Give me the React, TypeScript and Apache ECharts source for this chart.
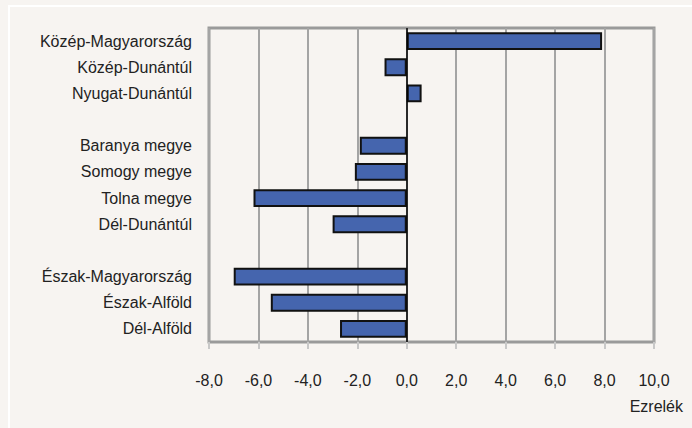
import React, { useEffect, useRef } from "react";
import * as echarts from "echarts";

const categories = [
  "Közép-Magyarország",
  "Közép-Dunántúl",
  "Nyugat-Dunántúl",
  "",
  "Baranya megye",
  "Somogy megye",
  "Tolna megye",
  "Dél-Dunántúl",
  " ",
  "Észak-Magyarország",
  "Észak-Alföld",
  "Dél-Alföld",
];
const values: (number | null)[] = [7.9, -0.9, 0.6, null, -1.9, -2.1, -6.2, -3.0, null, -7.0, -5.5, -2.7];
const unitLabel = "Ezrelék";
const FONT = "'Liberation Sans Narrow', 'Arial Narrow', 'Liberation Sans', sans-serif";

export default function App() {
  const ref = useRef<HTMLDivElement>(null);
  useEffect(() => {
    document.body.style.margin = "0";
    const chart = echarts.init(ref.current!, null, { renderer: "svg" });
    chart.setOption({
      animation: false,
      backgroundColor: "#f7f4f1",
      textStyle: { fontFamily: FONT },
      grid: {
        left: 209,
        right: 38,
        top: 28,
        bottom: 86,
        show: true,
        borderColor: "#9a9a9a",
        borderWidth: 3,
        backgroundColor: "transparent",
      },
      xAxis: {
        type: "value",
        min: -8,
        max: 10,
        interval: 2,
        axisLine: { show: false },
        axisTick: { show: true, length: 7, lineStyle: { color: "#c8c8c8", width: 2 } },
        splitLine: { show: true, lineStyle: { color: "#a4a4a4", width: 2 } },
        axisLabel: {
          margin: 30,
          fontSize: 16,
          color: "#222",
          fontFamily: FONT,
          formatter: (v: number) => v.toFixed(1).replace(".", ","),
        },
      },
      yAxis: {
        type: "category",
        inverse: true,
        data: categories,
        axisLine: { show: false },
        axisTick: { show: false },
        splitLine: { show: false },
        axisLabel: { margin: 17, fontSize: 16, color: "#222", fontFamily: FONT },
      },
      series: [
        {
          type: "bar",
          data: values,
          barWidth: "68%",
          itemStyle: { color: "#4565ae", borderColor: "#111", borderWidth: 2 },
          markLine: {
            silent: true,
            symbol: "none",
            label: { show: false },
            lineStyle: { color: "#000", width: 1.5, type: "solid" },
            data: [{ xAxis: 0 }],
          },
        },
      ],
      graphic: [
        {
          type: "rect",
          shape: { x: 9, y: 6, width: 720, height: 460 },
          style: { fill: "none", stroke: "#ffffff", lineWidth: 2 },
          silent: true,
        },
        {
          type: "text",
          right: 9,
          top: 398,
          style: { text: unitLabel, fontSize: 16, fill: "#222", fontFamily: FONT },
        },
      ],
    });
    return () => chart.dispose();
  }, []);
  return <div ref={ref} style={{ width: 692, height: 428 }} />;
}
